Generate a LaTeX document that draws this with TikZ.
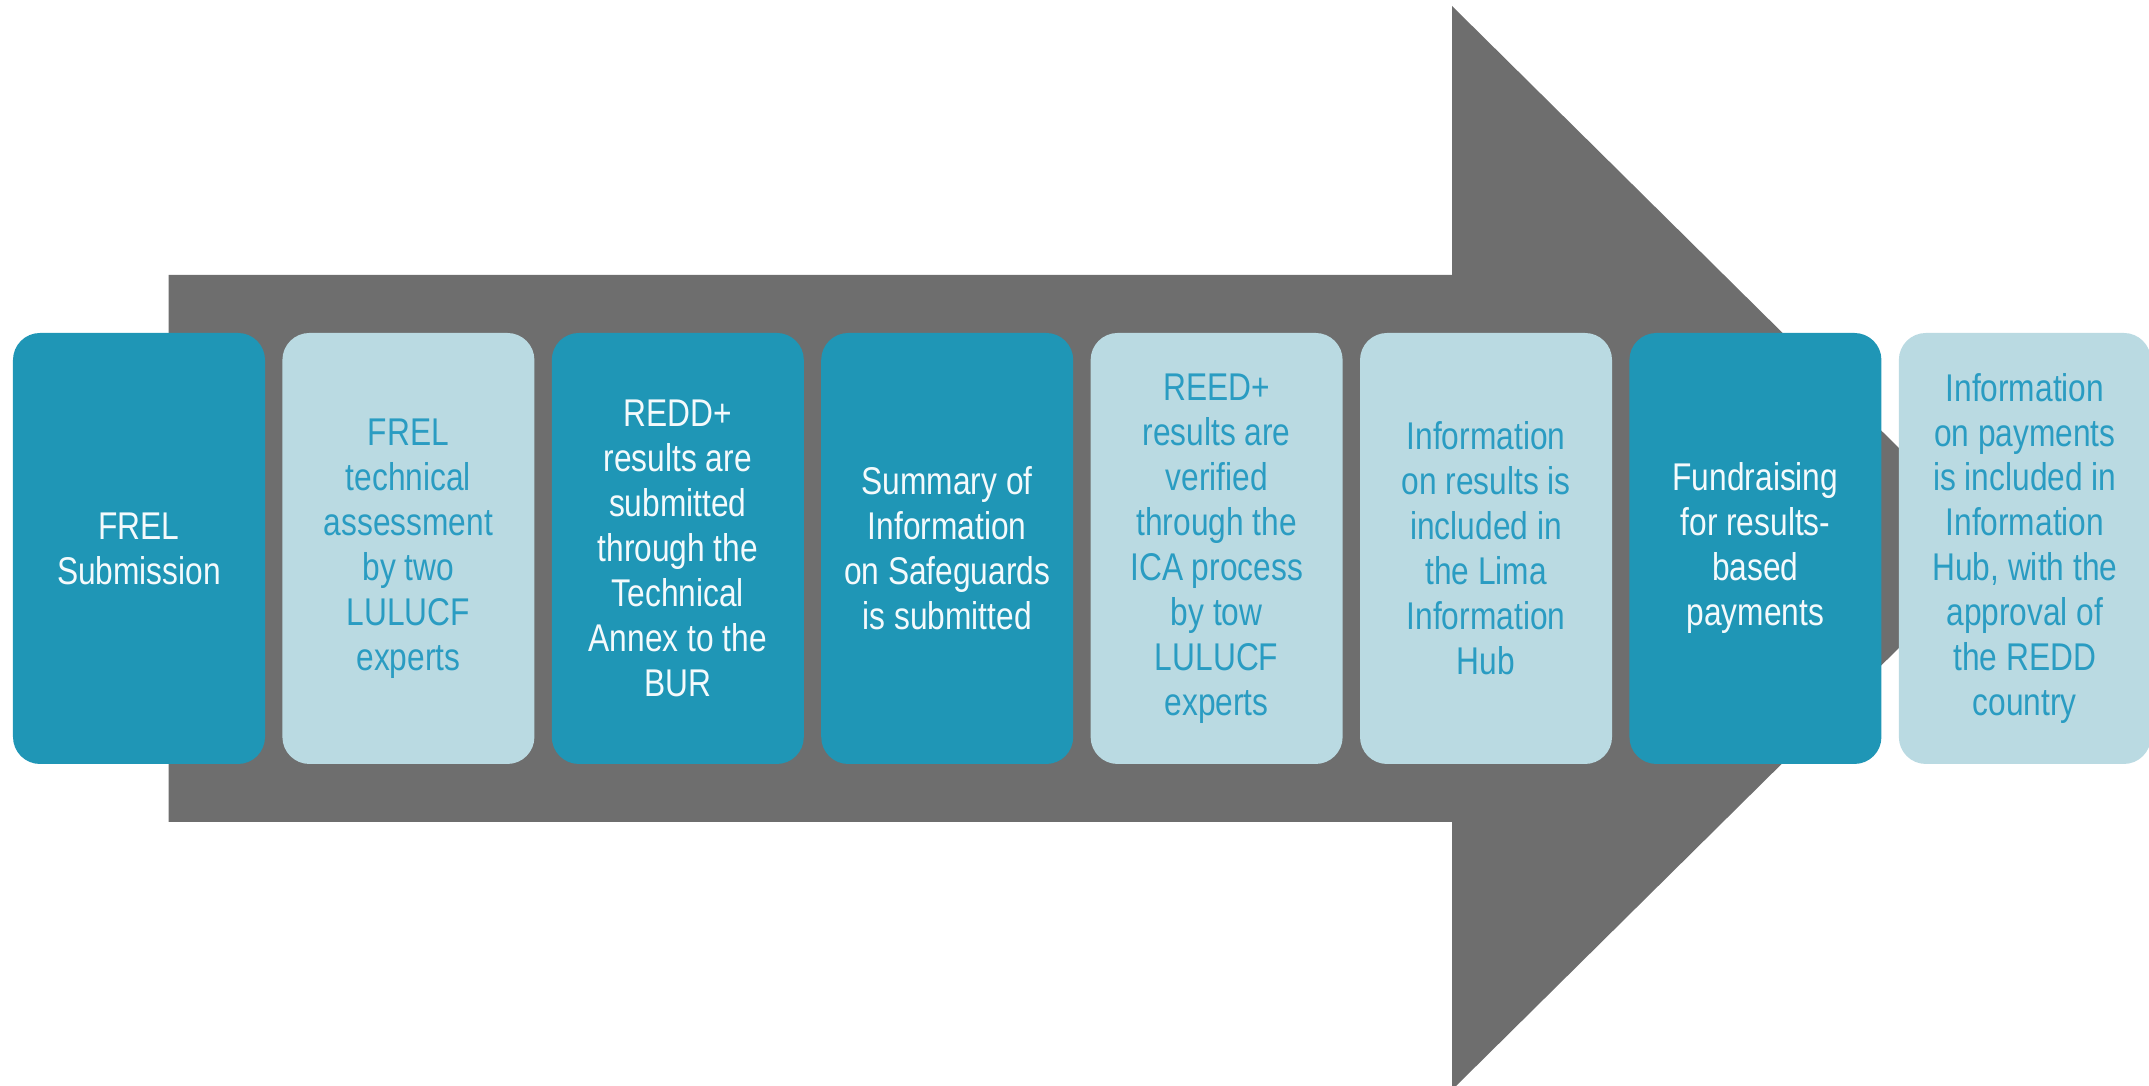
\documentclass[tikz,border=0pt]{standalone}
\usepackage{fontspec}
\setmainfont{Liberation Sans}[FakeStretch=0.82]
\usetikzlibrary{positioning}

\definecolor{arrowgray}{HTML}{6E6E6E}
\definecolor{tealdark}{HTML}{1F96B6}
\definecolor{teallight}{HTML}{BADAE2}
\definecolor{tealtext}{HTML}{2A9CC2}
\definecolor{paletext}{HTML}{F4FAFC}

\begin{document}
\begin{tikzpicture}[
    stagebox/.style={
        rounded corners=0.27cm,
        minimum width=2.52cm,
        minimum height=4.31cm,
        inner sep=0.05cm,
        align=center,
        font=\fontsize{11}{12.8}\selectfont
    },
    darkstage/.style={stagebox, fill=tealdark, text=paletext},
    lightstage/.style={stagebox, fill=teallight, text=tealtext},
    node distance=0.16cm
]

    \useasboundingbox (0,0) rectangle (21.49,10.86);

    % Velka sipka v pozadi
    \fill[arrowgray]
        (1.685,2.64) -- (1.685,8.11) -- (14.52,8.11) -- (14.52,10.80)
        -- (20.0,5.38) -- (14.52,-0.04) -- (14.52,2.64) -- cycle;

    % Kroky procesu
    \node[darkstage] (frel) at (1.39,5.375)
        {FREL\\Submission};

    \node[lightstage, right=of frel] (assess)
        {FREL\\technical\\assessment\\by two\\LULUCF\\experts};

    \node[darkstage, right=of assess] (annex)
        {REDD+\\results are\\submitted\\through the\\Technical\\Annex to the\\BUR};

    \node[darkstage, right=of annex] (safeguards)
        {Summary of\\Information\\on Safeguards\\is submitted};

    \node[lightstage, right=of safeguards] (verify)
        {REED+\\results are\\verified\\through the\\ICA process\\by tow\\LULUCF\\experts};

    \node[lightstage, right=of verify] (limahub)
        {Information\\on results is\\included in\\the Lima\\Information\\Hub};

    \node[darkstage, right=of limahub] (funds)
        {Fundraising\\for results-\\based\\payments};

    \node[lightstage, right=of funds] (payments)
        {Information\\on payments\\is included in\\Information\\Hub, with the\\approval of\\the REDD\\country};

\end{tikzpicture}
\end{document}
